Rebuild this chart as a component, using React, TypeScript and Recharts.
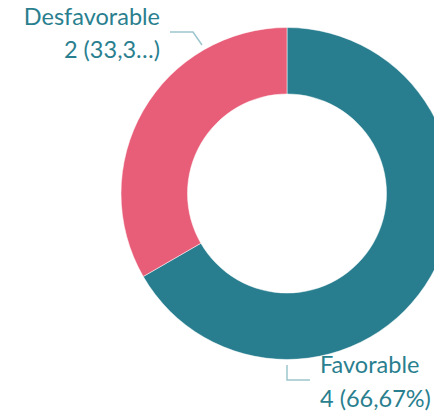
import React from 'react';
import { PieChart, Pie, Cell } from 'recharts';

const names = ['Favorable', 'Desfavorable'];
const values = [4, 2];
const valueLabels = ['4 (66,67%)', '2 (33,3…)'];
const colors = ['#287e8f', '#e85d77'];

const data = names.map((name, i) => ({ name, value: values[i] }));

const TEXT = '#2a7f8f';
const LEADER = '#9cc6ce';
const FONT = 'Lato, "Noto Sans", sans-serif';
const FS = 23.5;

const renderLabel = (props: any) => {
  const { cx, cy, index } = props;
  if (index === 1) {
    // Desfavorable: label up-left, leader to the ring
    return (
      <g>
        <polyline
          points={`${cx - 85},${cy - 148.5} ${cx - 94},${cy - 161.5} ${cx - 117},${cy - 161.5}`}
          fill="none"
          stroke={LEADER}
          strokeWidth={1.5}
        />
        <text x={cx - 127} y={cy - 168.5} textAnchor="end" fill={TEXT} fontSize={FS} fontFamily={FONT}>
          {names[index]}
        </text>
        <text x={cx - 127} y={cy - 135.5} textAnchor="end" fill={TEXT} fontSize={FS} fontFamily={FONT}>
          {valueLabels[index]}
        </text>
      </g>
    );
  }
  return (
    <g>
      <polyline
        points={`${cx},${cy + 171.5} ${cx},${cy + 186.5} ${cx + 23},${cy + 186.5}`}
        fill="none"
        stroke={LEADER}
        strokeWidth={1.5}
      />
      <text x={cx + 33} y={cy + 179.5} textAnchor="start" fill={TEXT} fontSize={FS} fontFamily={FONT}>
        {names[index]}
      </text>
      <text x={cx + 33} y={cy + 213.5} textAnchor="start" fill={TEXT} fontSize={FS} fontFamily={FONT}>
        {valueLabels[index]}
      </text>
    </g>
  );
};

export default function App() {
  return (
    <div style={{ position: 'absolute', left: 0, top: 0, width: 434, height: 414, background: '#fff' }}>
      <PieChart width={434} height={414} margin={{ top: 0, right: 0, bottom: 0, left: 0 }}>
        <Pie
          data={data}
          dataKey="value"
          nameKey="name"
          cx={287}
          cy={193.5}
          innerRadius={99.5}
          outerRadius={166}
          startAngle={90}
          endAngle={-270}
          stroke="#fff"
          strokeWidth={0.5}
          labelLine={false}
          label={renderLabel}
          isAnimationActive={false}
        >
          {data.map((d, i) => (
            <Cell key={d.name} fill={colors[i]} />
          ))}
        </Pie>
      </PieChart>
    </div>
  );
}
